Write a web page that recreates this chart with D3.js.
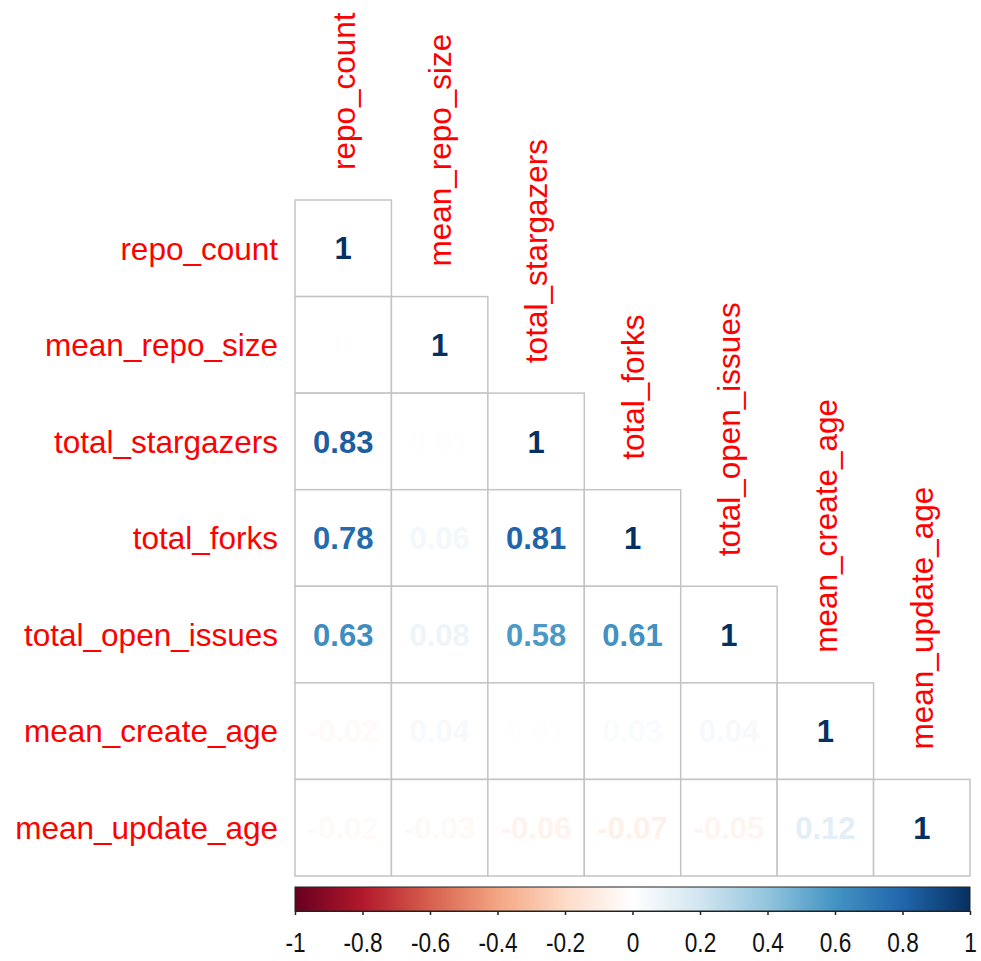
<!DOCTYPE html>
<html>
<head>
<meta charset="utf-8">
<script src="https://cdn.jsdelivr.net/npm/d3@7"></script>
<style>
  html, body { margin: 0; padding: 0; background: #fff; }
  svg { display: block; }
</style>
</head>
<body>
<svg id="chart" width="981" height="961"></svg>
<script>
// ---- data ----
const variables = ["repo_count", "mean_repo_size", "total_stargazers", "total_forks",
                   "total_open_issues", "mean_create_age", "mean_update_age"];
const row_repo_count        = [1];
const row_mean_repo_size    = [0, 1];
const row_total_stargazers  = [0.83, 0.01, 1];
const row_total_forks       = [0.78, 0.06, 0.81, 1];
const row_total_open_issues = [0.63, 0.08, 0.58, 0.61, 1];
const row_mean_create_age   = [-0.02, 0.04, 0.01, 0.03, 0.04, 1];
const row_mean_update_age   = [-0.02, -0.03, -0.06, -0.07, -0.05, 0.12, 1];
const legendTicks = [-1, -0.8, -0.6, -0.4, -0.2, 0, 0.2, 0.4, 0.6, 0.8, 1];
const paletteColors = ["#67001F", "#B2182B", "#D6604D", "#F4A582", "#FDDBC7", "#FFFFFF",
                       "#D1E5F0", "#92C5DE", "#4393C3", "#2166AC", "#053061"];

(function () {
const rows = [row_repo_count, row_mean_repo_size, row_total_stargazers, row_total_forks,
              row_total_open_issues, row_mean_create_age, row_mean_update_age];

// ---- layout ----
const gLeft = 295, gRight = 970, gTop = 200, gBottom = 876;
const svg = d3.select("#chart");
const FONT = "Liberation Sans, Arial, sans-serif";

const x = d3.scaleBand().domain(variables).range([gLeft, gRight]);
const y = d3.scaleBand().domain(variables).range([gTop, gBottom]);

const ramp = d3.scaleLinear()
  .domain(d3.range(paletteColors.length).map(i => -1 + 2 * i / (paletteColors.length - 1)))
  .range(paletteColors)
  .interpolate(d3.interpolateRgb);
// 200-step palette, binned like corrplot
const NCOL = 200;
const colors200 = d3.range(NCOL).map(i => ramp(-1 + 2 * i / (NCOL - 1)));
const color = v => colors200[Math.max(0, Math.ceil((v + 1) / 2 * NCOL) - 1)];

const cells = [];
rows.forEach((r, i) => r.forEach((v, j) => cells.push({row: variables[i], col: variables[j], v})));

// cells
svg.append("g").selectAll("rect").data(cells).join("rect")
  .attr("x", d => x(d.col))
  .attr("y", d => y(d.row))
  .attr("width", x.bandwidth())
  .attr("height", y.bandwidth())
  .attr("fill", "#fff")
  .attr("stroke", "#c4c4c4")
  .attr("stroke-width", 1.5);

// numbers
svg.append("g").selectAll("text").data(cells).join("text")
  .attr("x", d => x(d.col) + x.bandwidth() / 2)
  .attr("y", d => y(d.row) + y.bandwidth() / 2)
  .attr("dy", "0.36em")
  .attr("text-anchor", "middle")
  .attr("font-family", FONT)
  .attr("font-weight", "bold")
  .attr("font-size", 31)
  .attr("fill", d => color(d.v))
  .text(d => String(d.v));

// row labels
svg.append("g").selectAll("text").data(variables).join("text")
  .attr("x", gLeft - 17)
  .attr("y", d => y(d) + y.bandwidth() / 2)
  .attr("dy", "0.36em")
  .attr("text-anchor", "end")
  .attr("font-family", FONT)
  .attr("font-size", 31.5)
  .attr("fill", "#FF0000")
  .text(d => d);

// column labels (rotated)
svg.append("g").selectAll("text").data(variables).join("text")
  .attr("transform", d => `translate(${x(d) + x.bandwidth() / 2},${y(d) - 30}) rotate(-90)`)
  .attr("dy", "0.36em")
  .attr("text-anchor", "start")
  .attr("font-family", FONT)
  .attr("font-size", 31.5)
  .attr("fill", "#FF0000")
  .text(d => d);

// colour legend
const lx = d3.scaleLinear().domain([-1, 1]).range([gLeft, gRight]);
const defs = svg.append("defs");
const grad = defs.append("linearGradient").attr("id", "rdbu")
  .attr("x1", "0%").attr("x2", "100%").attr("y1", "0%").attr("y2", "0%");
paletteColors.forEach((c, i) => grad.append("stop")
  .attr("offset", (100 * i / (paletteColors.length - 1)) + "%").attr("stop-color", c));

const barTop = 887, barH = 24;
svg.append("rect")
  .attr("x", lx(-1)).attr("y", barTop)
  .attr("width", lx(1) - lx(-1)).attr("height", barH)
  .attr("fill", "url(#rdbu)")
  .attr("stroke", "#222").attr("stroke-width", 1);

const axis = d3.axisBottom(lx).tickValues(legendTicks).tickSize(4).tickSizeOuter(0)
  .tickFormat(d => String(d));
const ag = svg.append("g").attr("transform", `translate(0,${barTop + barH})`).call(axis);
ag.select(".domain").attr("stroke", "#222");
ag.selectAll(".tick line").attr("stroke", "#222").attr("stroke-width", 1.5);
ag.selectAll(".tick text")
  .attr("font-family", FONT)
  .attr("font-size", 27)
  .attr("fill", "#111")
  .attr("y", 0)
  .attr("dy", 0)
  .attr("transform", "translate(0,41) scale(0.84,1)");
})();
</script>
</body>
</html>
